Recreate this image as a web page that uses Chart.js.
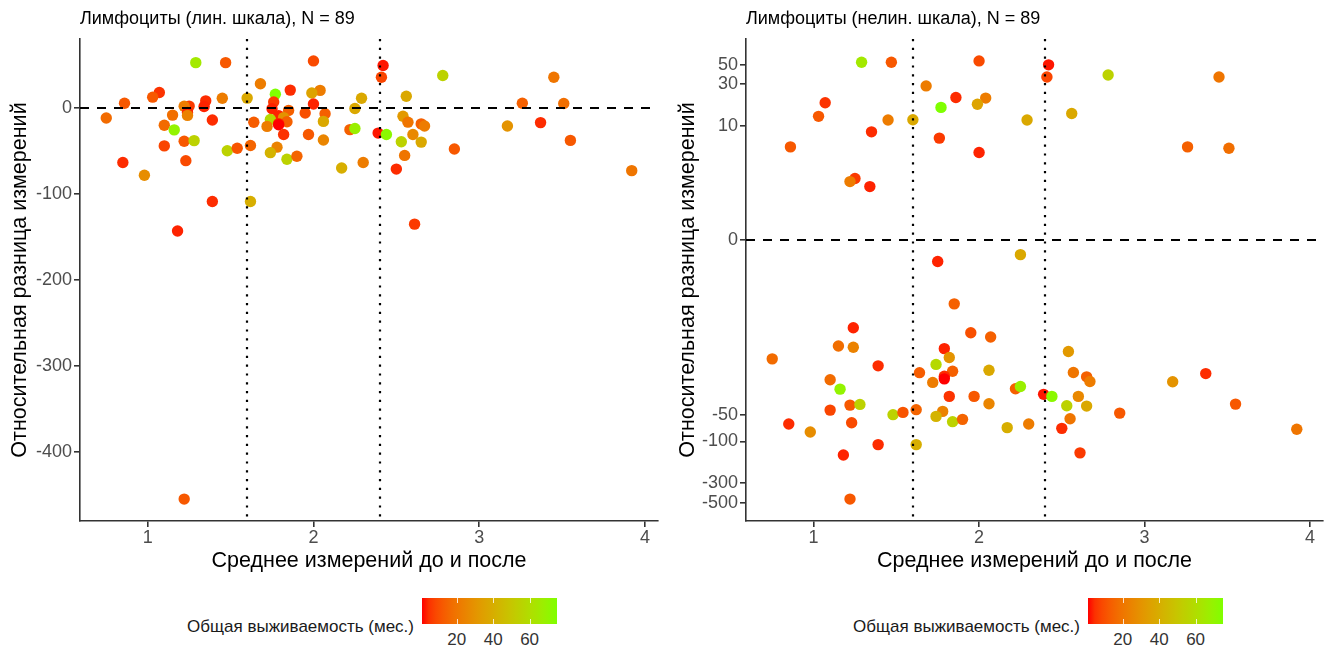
<!DOCTYPE html>
<html>
<head>
<meta charset="utf-8">
<title>Лимфоциты</title>
<script src="https://cdn.jsdelivr.net/npm/chart.js@4.4.1/dist/chart.umd.min.js"></script>
<style>
  body { margin: 0; background: #fff; width: 1336px; height: 655px; position: relative; overflow: hidden;
         font-family: "Liberation Sans", Arial, sans-serif; }
  .panel { position: absolute; top: 0; width: 668px; height: 590px; }
  .lg-title { position: absolute; width: 300px; text-align: right; font-size: 17px; line-height: 20px; color: #1a1a1a; }
  .lg-bar { position: absolute; }
  .lg-tick { position: absolute; width: 1px; background: rgba(255,255,255,0.8); }
  .lg-label { position: absolute; font-size: 17px; line-height: 20px; color: #333; transform: translateX(-50%); }
</style>
</head>
<body>
<div class="panel" style="left:0"><canvas id="linChart" width="668" height="590"></canvas></div>
<div class="panel" style="left:668px"><canvas id="asinhChart" width="668" height="590"></canvas></div>
<div id="legendLeft"></div>
<div id="legendRight"></div>
<script>
// mean of the two measurements (x)
const meanBeforeAfter = [
    1.29, 1.47, 2.00, 1.68, 1.86, 2.04, 1.99, 1.77, 1.07, 1.03, 1.45, 1.60, 1.35, 1.76, 0.86,
    2.00, 1.25, 1.22, 1.34, 1.75, 2.25, 2.42, 2.41, 2.78, 3.45, 2.29, 2.56, 3.26, 3.51,
    1.85, 1.24, 1.95, 2.07, 1.15, 1.24, 1.79, 0.75, 1.82, 1.39, 1.74, 1.64, 1.84, 2.06, 1.79,
    1.79, 1.72, 1.10, 1.16, 2.22, 1.82, 1.97, 2.06, 1.10, 1.22, 1.28, 1.48, 1.54, 1.62, 1.78,
    1.74, 1.84, 1.90, 2.17, 0.85, 1.23, 0.98, 1.62, 1.39, 1.18, 1.22,
    2.54, 2.57, 2.65, 2.67, 3.17, 3.37, 2.25, 2.39, 2.44, 2.60, 2.53, 2.65, 3.55, 2.85, 2.55,
    2.30, 2.50, 2.61, 3.92
];
// relative difference of the measurements, % (y)
const relativeDiff = [
    53, 53, 55, 28.5, 21, 20.7, 17.6, 16.2, 18.3, 12.8, 11.6, 11.7, 8.5, 7.2, 5.7,
    4.9, 2.4, 2.2, 1.9, -0.6, -0.4, 49.6, 36, 38, 36, 11.6, 13.8, 5.7, 5.5,
    -2.6, -5, -5.7, -6.4, -8.1, -8.4, -8.7, -11.4, -11, -13.7, -13.2, -16.4, -15.8, -15.4, -18,
    -19.3, -21.2, -19.8, -25.3, -25, -30.6, -30.6, -37.1, -43.9, -38.5, -37.8, -49.5, -46.6, -43.4, -45.4,
    -51.8, -59.5, -56, -69.6, -63.3, -61.1, -78, -108.7, -108.7, -143, -455,
    -9.4, -16.3, -18.3, -20.7, -20.8, -16.8, -23.6, -29, -30.6, -30.6, -39.1, -39.5, -37.5, -47.5, -55,
    -63.3, -70.9, -135, -72.7
];
// overall survival, months (colour)
const survivalMonths = [
    65, 12, 9, 22, 4, 22, 36, 75, 5, 12, 22, 38, 4, 6, 12,
    3, 6, 22, 3, 3, 38, 2, 8, 55, 20, 38, 38, 14, 18,
    14, 3, 10, 14, 18, 24, 3, 17, 30, 4, 58, 13, 14, 38, 4,
    1, 22, 17, 70, 14, 5, 12, 25, 8, 12, 55, 55, 11, 15, 24,
    42, 55, 15, 40, 4, 9, 28, 40, 4, 3, 12,
    32, 20, 14, 22, 30, 4, 68, 2, 72, 26, 55, 38, 12, 12, 20,
    22, 4, 6, 20
];

const cutoffs = [1.6, 2.4];
const xTicks = [1, 2, 3, 4];
const yTicksLinear = [-400, -300, -200, -100, 0];
const yTicksAsinh = [-500, -300, -100, -50, 0, 10, 30, 50];
const legendTicks = [20, 40, 60];

const LOW_COLOR = "#FF0000";
const HIGH_COLOR = "#7FFF00";

Chart.defaults.font.family = '"Liberation Sans", Arial, sans-serif';

/* sRGB <-> CIE Lab, to blend the two end colours the way ggplot does */
function hexToLab(hex) {
    const lin = (c) => { c /= 255; return c <= 0.04045 ? c / 12.92 : Math.pow((c + 0.055) / 1.055, 2.4); };
    const r = lin(parseInt(hex.slice(1, 3), 16));
    const g = lin(parseInt(hex.slice(3, 5), 16));
    const b = lin(parseInt(hex.slice(5, 7), 16));
    const X = (0.4124 * r + 0.3576 * g + 0.1805 * b) / 0.95047;
    const Y = 0.2126 * r + 0.7152 * g + 0.0722 * b;
    const Z = (0.0193 * r + 0.1192 * g + 0.9505 * b) / 1.08883;
    const f = (t) => (t > 0.008856 ? Math.cbrt(t) : 7.787 * t + 16 / 116);
    return [116 * f(Y) - 16, 500 * (f(X) - f(Y)), 200 * (f(Y) - f(Z))];
}

function labToRgb(L, a, b) {
    const fy = (L + 16) / 116, fx = fy + a / 500, fz = fy - b / 200;
    const inv = (t) => (t * t * t > 0.008856 ? t * t * t : (t - 16 / 116) / 7.787);
    const X = inv(fx) * 0.95047, Y = inv(fy), Z = inv(fz) * 1.08883;
    const r = 3.2406 * X - 1.5372 * Y - 0.4986 * Z;
    const g = -0.9689 * X + 1.8758 * Y + 0.0415 * Z;
    const bl = 0.0557 * X - 0.204 * Y + 1.057 * Z;
    const gam = (c) => {
        c = c <= 0.0031308 ? 12.92 * c : 1.055 * Math.pow(c, 1 / 2.4) - 0.055;
        return Math.round(Math.min(1, Math.max(0, c)) * 255);
    };
    return `rgb(${gam(r)},${gam(g)},${gam(bl)})`;
}

const labLow = hexToLab(LOW_COLOR);
const labHigh = hexToLab(HIGH_COLOR);
const survMin = Math.min(...survivalMonths);
const survMax = Math.max(...survivalMonths);

function colorFor(t) {
    return labToRgb(
        labLow[0] + (labHigh[0] - labLow[0]) * t,
        labLow[1] + (labHigh[1] - labLow[1]) * t,
        labLow[2] + (labHigh[2] - labLow[2]) * t
    );
}

const pointColors = survivalMonths.map((s) => colorFor((s - survMin) / (survMax - survMin)));
const points = meanBeforeAfter.map((x, i) => ({ x: x, y: relativeDiff[i] }));

/* ggplot-like 5% expansion of a range */
function expand(lo, hi) {
    const pad = (hi - lo) * 0.05;
    return [lo - pad, hi + pad];
}

const xRange = expand(Math.min(...meanBeforeAfter), Math.max(...meanBeforeAfter));
const yRangeLin = expand(Math.min(...relativeDiff), Math.max(...relativeDiff));
const yRangeAsinh = expand(Math.asinh(Math.min(...relativeDiff)), Math.asinh(Math.max(...relativeDiff)));

/* y axis in inverse-hyperbolic-sine space */
class AsinhScale extends Chart.Scale {
    static id = "asinh";
    static defaults = {};

    determineDataLimits() {
        this.min = this.options.min;
        this.max = this.options.max;
    }

    buildTicks() {
        return yTicksAsinh.map((v) => ({ value: v }));
    }

    configure() {
        super.configure();
        this._lo = Math.asinh(this.min);
        this._span = Math.asinh(this.max) - this._lo;
    }

    getPixelForValue(value) {
        return this.getPixelForDecimal((Math.asinh(value) - this._lo) / this._span);
    }

    getValueForPixel(pixel) {
        return Math.sinh(this._lo + this.getDecimalForPixel(pixel) * this._span);
    }
}
Chart.register(AsinhScale);

// dashed zero line and dotted cut-offs, drawn over the points
const refLines = {
    id: "refLines",
    afterDatasetsDraw(chart) {
        const { ctx, chartArea: a, scales } = chart;
        ctx.save();
        ctx.strokeStyle = "#000";
        ctx.lineWidth = 2.2;
        ctx.setLineDash([9, 8]);
        const y0 = Math.round(scales.y.getPixelForValue(0));
        ctx.beginPath();
        ctx.moveTo(a.left, y0);
        ctx.lineTo(a.right, y0);
        ctx.stroke();
        ctx.setLineDash([2.2, 6.6]);
        cutoffs.forEach((c) => {
            const px = Math.round(scales.x.getPixelForValue(c));
            ctx.beginPath();
            ctx.moveTo(px, a.top);
            ctx.lineTo(px, a.bottom);
            ctx.stroke();
        });
        ctx.restore();
    },
};

// panel title, left aligned with the plot area
const panelTitle = {
    id: "panelTitle",
    afterDraw(chart, args, opts) {
        const { ctx, chartArea } = chart;
        ctx.save();
        ctx.font = '18px "Liberation Sans", Arial, sans-serif';
        ctx.fillStyle = "#000";
        ctx.textBaseline = "middle";
        ctx.fillText(opts.text, chartArea.left, 19);
        ctx.restore();
    },
};

function makeChart(canvasId, title, yAxis, axisWidth, rightPad) {
    const axisStyle = {
        border: { display: true, color: "#333", width: 1.6 },
        grid: { display: true, drawOnChartArea: false, drawTicks: true, tickLength: 6, color: "#333", lineWidth: 1.6 },
    };
    return new Chart(document.getElementById(canvasId), {
        type: "scatter",
        data: {
            datasets: [
                {
                    data: points,
                    backgroundColor: pointColors,
                    borderColor: pointColors,
                    borderWidth: 0,
                    pointRadius: 5.7,
                    pointHoverRadius: 5.7,
                },
            ],
        },
        options: {
            responsive: false,
            animation: false,
            events: [],
            layout: { padding: { top: 39, right: rightPad, left: 0, bottom: 0 } },
            plugins: {
                legend: { display: false },
                tooltip: { enabled: false },
                panelTitle: { text: title },
            },
            scales: {
                x: Object.assign({}, axisStyle, {
                    type: "linear",
                    min: xRange[0],
                    max: xRange[1],
                    afterBuildTicks: (s) => { s.ticks = xTicks.map((v) => ({ value: v })); },
                    afterFit: (s) => { s.height = 69; },
                    ticks: { autoSkip: false, maxRotation: 0, padding: 0, color: "#4D4D4D", font: { size: 18 }, callback: (v) => String(v) },
                    title: { display: true, text: "Среднее измерений до и после", color: "#000", font: { size: 21.5 }, padding: { top: 0, bottom: 16 } },
                }),
                y: Object.assign({}, axisStyle, yAxis, {
                    afterFit: (s) => { s.width = axisWidth; },
                    ticks: { autoSkip: false, padding: 2, color: "#4D4D4D", font: { size: 18 }, callback: (v) => String(v) },
                    title: { display: true, text: "Относительная разница измерений", color: "#000", font: { size: 21.5 }, padding: { top: 7, bottom: 0 } },
                }),
            },
        },
        plugins: [refLines, panelTitle],
    });
}

makeChart("linChart", "Лимфоциты (лин. шкала), N = 89", {
    type: "linear",
    min: yRangeLin[0],
    max: yRangeLin[1],
    afterBuildTicks: (s) => { s.ticks = yTicksLinear.map((v) => ({ value: v })); },
}, 80, 10);

makeChart("asinhChart", "Лимфоциты (нелин. шкала), N = 89", {
    type: "asinh",
    min: Math.sinh(yRangeAsinh[0]),
    max: Math.sinh(yRangeAsinh[1]),
}, 78, 13);

/* colour bar legends under each panel */
function buildLegend(el, barLeft) {
    const barW = 135, barTop = 598, barH = 26;
    const stops = [];
    for (let i = 0; i <= 20; i++) stops.push(`${colorFor(i / 20)} ${i * 5}%`);

    let html = `<div class="lg-title" style="left:${barLeft - 308}px;top:617px">Общая выживаемость (мес.)</div>`;
    html += `<div class="lg-bar" style="left:${barLeft}px;top:${barTop}px;width:${barW}px;height:${barH}px;background:linear-gradient(to right, ${stops.join(", ")})"></div>`;
    legendTicks.forEach((v) => {
        const px = barLeft + ((v - survMin) / (survMax - survMin)) * barW;
        html += `<div class="lg-tick" style="left:${px}px;top:${barTop}px;height:5px"></div>`;
        html += `<div class="lg-tick" style="left:${px}px;top:${barTop + barH - 5}px;height:5px"></div>`;
        html += `<div class="lg-label" style="left:${px}px;top:630px">${v}</div>`;
    });
    el.innerHTML = html;
}

buildLegend(document.getElementById("legendLeft"), 422);
buildLegend(document.getElementById("legendRight"), 1088);
</script>
</body>
</html>
